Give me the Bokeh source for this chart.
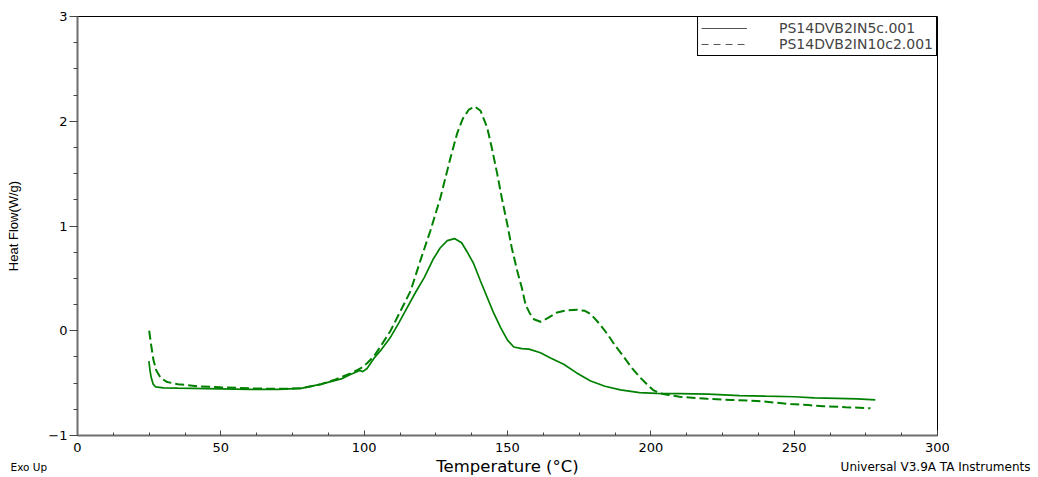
from bokeh.plotting import figure
from bokeh.models import Range1d, SingleIntervalTicker, Legend, LegendItem, ColumnDataSource
from bokeh.core.properties import value
from bokeh.layouts import column, row
from bokeh.embed import file_html
from bokeh.resources import INLINE

# ---- data ----
solid_label = "PS14DVB2IN5c.001"
dashed_label = "PS14DVB2IN10c2.001"

solid_T = [24.9, 25.3, 25.7, 26.4, 27.2, 30, 35, 40, 50, 60, 70, 78, 85, 92, 95, 98.5, 99.5, 101,
           103.5, 106, 109, 112, 115, 118, 121, 124, 126.5, 129, 131.5, 134, 136, 138.2, 140.5,
           142.9, 145, 147.6, 150, 152.2, 155, 157.5, 161.5, 165, 169.6, 174, 179, 184, 189.4,
           196, 202, 210, 220, 231, 240, 250, 257, 265, 272, 278.3]
solid_v = [-0.29, -0.38, -0.445, -0.51, -0.535, -0.545, -0.548, -0.55, -0.555, -0.56, -0.56, -0.55,
           -0.51, -0.46, -0.42, -0.38, -0.39, -0.36, -0.26, -0.18, -0.07, 0.07, 0.22, 0.37, 0.51,
           0.68, 0.79, 0.86, 0.88, 0.84, 0.75, 0.64, 0.48, 0.32, 0.18, 0.03, -0.09, -0.155, -0.17,
           -0.175, -0.21, -0.26, -0.32, -0.40, -0.48, -0.53, -0.565, -0.59, -0.598, -0.60, -0.605,
           -0.62, -0.625, -0.63, -0.64, -0.645, -0.65, -0.66]

dashed_T = [25.0, 25.6, 26.5, 27.5, 29, 31.3, 35, 42, 50, 60, 70, 78, 85, 90, 95, 98.7, 101, 103.5,
            105.7, 109.2, 112.7, 116.2, 119.6, 123.1, 126.6, 130.1, 132.5, 134.5, 136.5, 138.6,
            140.6, 142.9, 144.5, 146.4, 148, 149.9, 151.5, 153.4, 155, 156.3, 157.7, 159.2, 161.5,
            164, 167.3, 170.5, 174.3, 177, 179, 182, 184.8, 187.5, 190.6, 193.5, 196.4, 199, 201,
            203.5, 205.7, 210, 219.7, 228, 237, 243, 248.7, 255, 260.2, 268, 276.6]
dashed_v = [0.0, -0.12, -0.28, -0.38, -0.45, -0.49, -0.51, -0.53, -0.54, -0.55, -0.555, -0.55,
            -0.51, -0.465, -0.41, -0.36, -0.31, -0.24, -0.15, 0.0, 0.19, 0.38, 0.67, 0.955, 1.27,
            1.65, 1.89, 2.03, 2.11, 2.14, 2.10, 1.94, 1.75, 1.50, 1.27, 1.02, 0.79, 0.57, 0.41,
            0.25, 0.17, 0.11, 0.086, 0.12, 0.175, 0.195, 0.20, 0.19, 0.16, 0.07, -0.03, -0.14,
            -0.25, -0.36, -0.45, -0.52, -0.57, -0.60, -0.61, -0.63, -0.65, -0.66, -0.67, -0.685,
            -0.70, -0.71, -0.72, -0.73, -0.74]

x_label = "Temperature (°C)"
y_label = "Heat Flow(W/g)"
left_note = "Exo Up"
right_note = "Universal V3.9A TA Instruments"

GREEN = "#008000"
FONT = "DejaVu Sans"
W = 1036

p = figure(width=W, height=457, x_range=Range1d(0, 300), y_range=Range1d(-1, 3),
           output_backend="svg", toolbar_location=None,
           min_border_left=77, min_border_right=99, min_border_top=16, min_border_bottom=22)
p.xgrid.visible = False
p.ygrid.visible = False
p.outline_line_color = "black"
p.outline_line_width = 1
p.outline_line_alpha = 1.0
p.background_fill_color = "white"
p.border_fill_color = "white"

# axes
p.xaxis.ticker = SingleIntervalTicker(interval=50, num_minor_ticks=4)
p.yaxis.ticker = SingleIntervalTicker(interval=1, num_minor_ticks=4)
for ax in (p.xaxis, p.yaxis):
    ax.axis_line_color = "#6e6e6e"
    ax.axis_line_width = 2
    ax.major_tick_line_color = "#444444"
    ax.minor_tick_line_color = "#444444"
    ax.major_label_text_font = FONT
    ax.major_label_text_font_size = "13px"
    ax.major_label_text_color = "black"
p.xaxis.major_tick_in = 5
p.xaxis.major_tick_out = 0
p.xaxis.minor_tick_in = 3
p.xaxis.minor_tick_out = 0
p.xaxis.major_label_standoff = 7
p.yaxis.major_tick_in = 0
p.yaxis.major_tick_out = 8
p.yaxis.minor_tick_in = 0
p.yaxis.minor_tick_out = 4
p.yaxis.major_label_standoff = 2
p.yaxis.axis_label = y_label
p.yaxis.axis_label_text_font = "Liberation Sans"
p.yaxis.axis_label_text_font_size = "13px"
p.yaxis.axis_label_text_font_style = "normal"
p.yaxis.axis_label_text_color = "black"
p.yaxis.axis_label_standoff = 24

# curves
s1 = ColumnDataSource(dict(x=solid_T, y=solid_v))
s2 = ColumnDataSource(dict(x=dashed_T, y=dashed_v))
p.line("x", "y", source=s1, line_color=GREEN, line_width=1.7)
p.line("x", "y", source=s2, line_color=GREEN, line_width=2, line_dash="9 4")

# legend samples: one-point lines (draw nothing in the plot, grey in legend)
l1 = p.line(x=solid_T[:1], y=solid_v[:1], line_color="#555555", line_width=1)
l2 = p.line(x=dashed_T[:1], y=dashed_v[:1], line_color="#555555", line_width=1, line_dash="7 5")
legend = Legend(items=[LegendItem(label=solid_label, renderers=[l1]),
                       LegendItem(label=dashed_label, renderers=[l2])],
                location="top_right", margin=0, padding=3, spacing=0,
                glyph_width=46, glyph_height=12, label_height=12, label_standoff=32,
                label_text_font=FONT, label_text_font_size="14px",
                border_line_color="black", border_line_width=1, border_line_alpha=1.0,
                background_fill_color="white", background_fill_alpha=1.0)
p.add_layout(legend)

# bottom strip with the x-axis title and the two notes
H2 = 19
pb = figure(width=W, height=H2, x_range=Range1d(0, W), y_range=Range1d(0, H2),
            output_backend="svg", toolbar_location=None,
            x_axis_location=None, y_axis_location=None, min_border=0)
pb.xgrid.visible = False
pb.ygrid.visible = False
pb.outline_line_color = None
pb.background_fill_color = "white"
pb.border_fill_color = "white"
pb.text(x=[10], y=[H2 - 9], text=[left_note], text_font=value(FONT),
        text_font_size="10.5px", text_align="left", text_baseline="middle", text_color="black")
pb.text(x=[507], y=[H2 - 9], text=[x_label], text_font=value(FONT),
        text_font_size="16.5px", text_align="center", text_baseline="middle", text_color="black")
pb.text(x=[1030], y=[H2 - 9], text=[right_note], text_font=value(FONT),
        text_font_size="12px", text_align="right", text_baseline="middle", text_color="black")

layout = column(p, row(pb, spacing=0), spacing=0)
open("out.html", "w").write(file_html(layout, INLINE))
